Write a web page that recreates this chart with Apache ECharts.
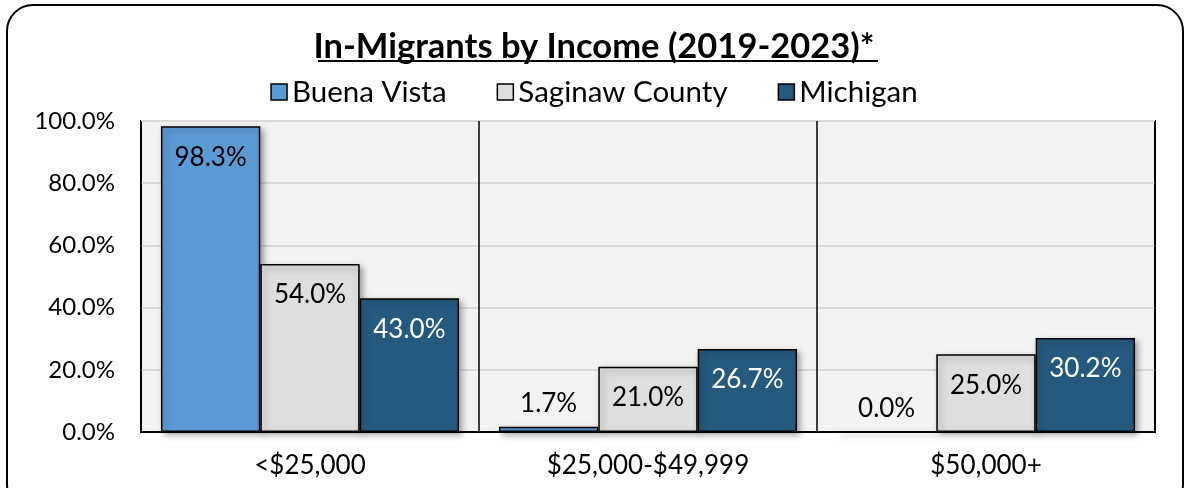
<!DOCTYPE html>
<html>
<head>
<meta charset="utf-8">
<script src="https://cdn.jsdelivr.net/npm/echarts@6/dist/echarts.min.js"></script>
<style>
  html, body { margin: 0; padding: 0; background: #fff; }
  #content { width: 1188px; height: 488px; }
</style>
</head>
<body>
<div id="content"></div>
<script>
const categories = ['<$25,000', '$25,000-$49,999', '$50,000+'];
const buenaVista = [98.3, 1.7, 0.0];
const saginawCounty = [54.0, 21.0, 25.0];
const michigan = [43.0, 26.7, 30.2];

const FONT = 'Lato';

// small bars get the label above them, like the source chart
function items(values) {
  return values.map(v => v < 5
    ? { value: v, label: { position: 'top', distance: 10, color: '#000' } }
    : v);
}

function barSeries(name, values, color, labelColor) {
  return {
    name: name,
    type: 'bar',
    data: items(values),
    barGap: '0%',
    barCategoryGap: '11.8%',
    itemStyle: {
      color: color,
      borderColor: '#000',
      borderWidth: 1.5,
      shadowColor: 'rgba(0,0,0,0.35)',
      shadowBlur: 6,
      shadowOffsetX: 3,
      shadowOffsetY: 3
    },
    label: {
      show: true,
      position: 'insideTop',
      distance: 18,
      color: labelColor,
      fontFamily: FONT,
      fontSize: 26,
      formatter: p => p.value.toFixed(1) + '%'
    }
  };
}

const chart = echarts.init(document.getElementById('content'));
chart.setOption({
  animation: false,
  backgroundColor: '#fff',
  title: {
    text: 'In-Migrants by Income (2019-2023)*',
    left: 'center',
    top: 24,
    textStyle: { fontFamily: FONT, fontSize: 34.5, fontWeight: 'bold', color: '#000' }
  },
  legend: {
    top: 72,
    left: 'center',
    itemWidth: 16,
    itemHeight: 16,
    itemGap: 50,
    icon: 'rect',
    textStyle: { fontFamily: FONT, fontSize: 29.5, color: '#000' },
    itemStyle: { borderColor: '#000', borderWidth: 1.5, shadowBlur: 0, shadowOffsetX: 0, shadowOffsetY: 0 }
  },
  grid: {
    left: 141,
    right: 33,
    top: 121,
    bottom: 56,
    show: true,
    backgroundColor: '#f2f2f2',
    borderColor: '#000',
    borderWidth: 2
  },
  xAxis: {
    type: 'category',
    data: categories,
    axisLine: { lineStyle: { color: '#000', width: 2 } },
    axisTick: { show: false },
    splitLine: { show: true, lineStyle: { color: '#000', width: 1.5 } },
    axisLabel: { fontFamily: FONT, fontSize: 26, color: '#000', margin: 21 }
  },
  yAxis: {
    type: 'value',
    min: 0,
    max: 100,
    interval: 20,
    axisLine: { show: false },
    axisTick: { show: false },
    splitLine: { lineStyle: { color: '#d9d9d9', width: 2 } },
    axisLabel: {
      fontFamily: FONT,
      fontSize: 24,
      color: '#000',
      margin: 26,
      formatter: v => v.toFixed(1) + '%'
    }
  },
  series: [
    barSeries('Buena Vista', buenaVista, '#5b9bd5', '#000'),
    barSeries('Saginaw County', saginawCounty, '#dedede', '#000'),
    barSeries('Michigan', michigan, '#255a7e', '#fff')
  ],
  graphic: [
    {
      type: 'rect',
      shape: { x: 7, y: 5, width: 1176, height: 505, r: 26 },
      style: { fill: null, stroke: '#000', lineWidth: 2 },
      silent: true
    },
    {
      type: 'line',
      shape: { x1: 318, y1: 61, x2: 878, y2: 61 },
      style: { stroke: '#000', lineWidth: 2 },
      silent: true
    }
  ]
});
</script>
</body>
</html>
